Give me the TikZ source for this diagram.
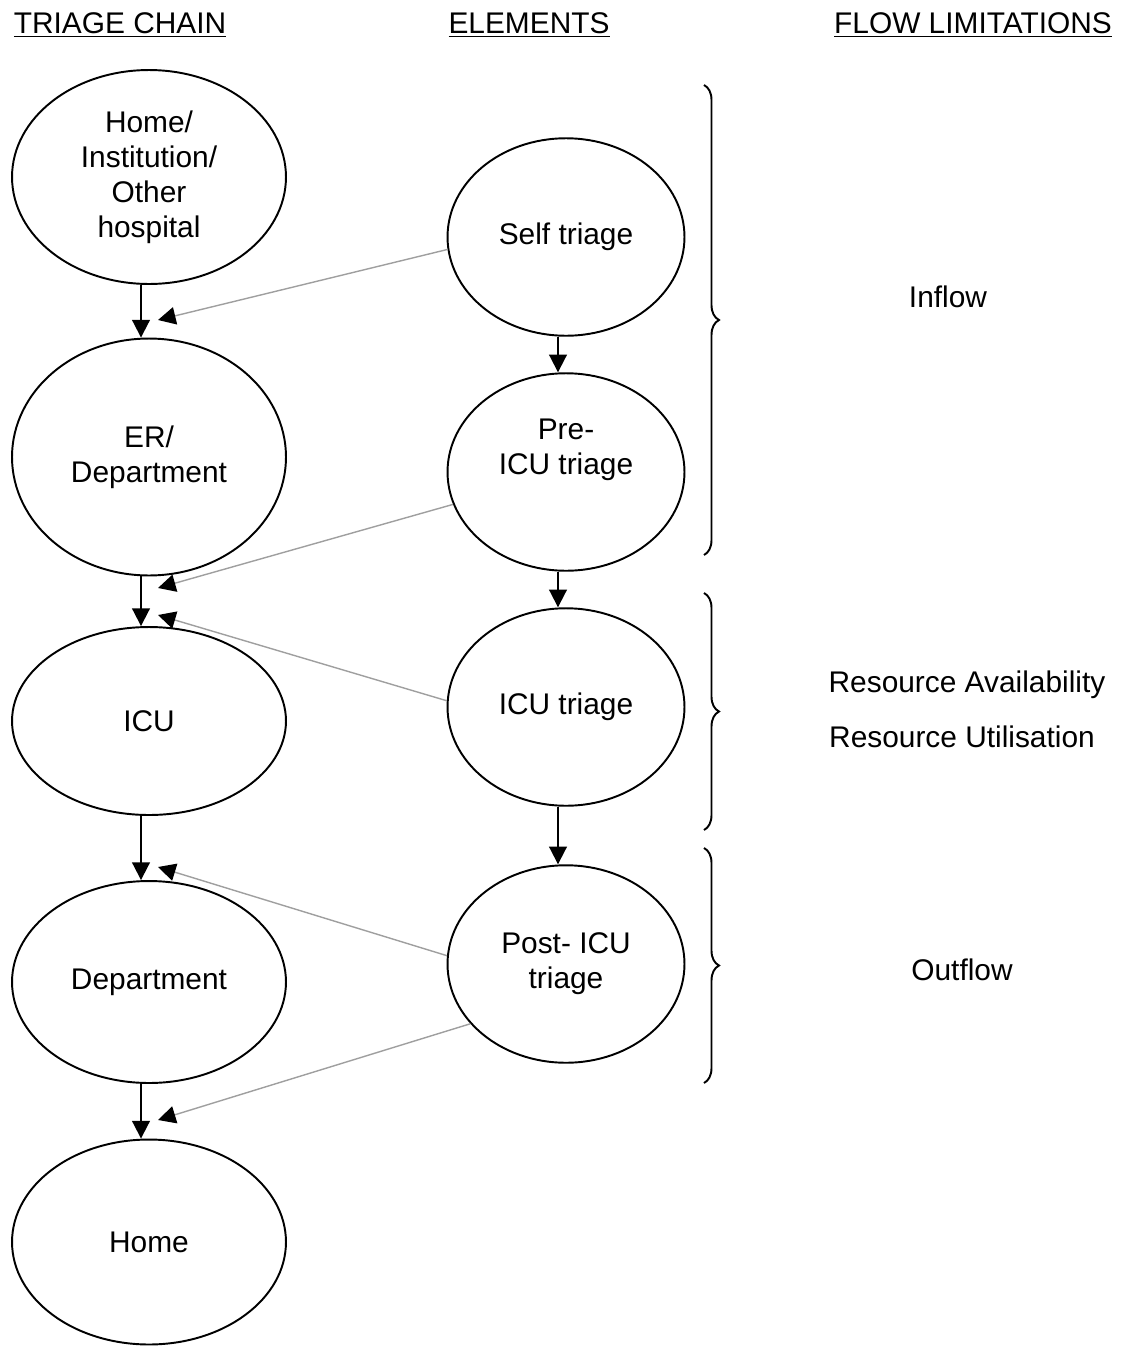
\documentclass[tikz,border=0pt]{standalone}
\usepackage{fontspec}
\setmainfont{Liberation Sans}
\usetikzlibrary{positioning}
\usetikzlibrary{shapes.geometric}
\usetikzlibrary{arrows.meta}
\usetikzlibrary{decorations.pathreplacing}

\begin{document}
\begin{tikzpicture}[
        x=0.02cm,
        y=-0.02cm,
        every node/.style={
            font=\fontsize{17}{20}\selectfont,
        },
        chain/.style={
            draw,
            line width=1.1pt,
            ellipse,
            align=center,
            inner sep=0pt,
            minimum width=5.48cm,
        },
        element/.style={
            draw,
            line width=1.1pt,
            ellipse,
            align=center,
            inner sep=0pt,
            minimum width=4.74cm,
            minimum height=3.95cm,
        },
        flow/.style={
            -{Triangle[length=10pt,width=10pt]},
            line width=1.1pt,
        },
        feed/.style={
            -{Triangle[length=10pt,width=10pt,black]},
            draw=gray!75,
            line width=0.8pt,
        },
        limit/.style={
            decorate,
            decoration={brace,amplitude=0.3cm},
            line width=1.1pt,
        },
    ]
    \useasboundingbox (0,0) rectangle (1131,1349);

    % Headings.
    \node (hchain) at (120,25) {\underline{TRIAGE CHAIN}};
    \node (helem) at (529,25) {\underline{ELEMENTS}};
    \node (hflow) at (973,25) {\underline{FLOW LIMITATIONS}};

    % Triage chain.
    \node[chain, minimum height=4.28cm] (home1) at (149,177) {Home/\\Institution/\\Other\\hospital};
    \node[chain, minimum height=4.74cm] (er) at (149,457) {ER/\\Department};
    \node[chain, minimum height=3.76cm] (icu) at (149,721) {ICU};
    \node[chain, minimum height=4.04cm] (dept) at (149,982) {Department};
    \node[chain, minimum height=4.10cm] (home2) at (149,1242) {Home};

    % Elements.
    \node[element] (self) at (566,237) {Self triage};
    \node[element, text depth=1cm] (pre) at (566,472) {Pre-\\ICU triage};
    \node[element] (icut) at (566,707) {ICU triage};
    \node[element] (post) at (566,964) {Post- ICU\\triage};

    % Flow limitations.
    \node (inflow) at (948,297) {Inflow};
    \node (avail) at (967,685) {Resource Availability};
    \node (util) at (962,737) {Resource Utilisation};
    \node (outflow) at (962,970) {Outflow};

    % Chain arrows.
    \draw[flow] ([xshift=-0.16cm]home1.south) to ([xshift=-0.16cm]er.north);
    \draw[flow] ([xshift=-0.16cm]er.south) to ([xshift=-0.16cm]icu.north);
    \draw[flow] ([xshift=-0.16cm]icu.south) to ([xshift=-0.16cm]dept.north);
    \draw[flow] ([xshift=-0.16cm]dept.south) to ([xshift=-0.16cm]home2.north);

    \draw[flow] ([xshift=-0.16cm]self.south) to ([xshift=-0.16cm]pre.north);
    \draw[flow] ([xshift=-0.16cm]pre.south) to ([xshift=-0.16cm]icut.north);
    \draw[flow] ([xshift=-0.16cm]icut.south) to ([xshift=-0.16cm]post.north);

    % Where the elements act on the chain.
    \coordinate (t1) at (158,320);
    \coordinate (t2) at (158,588);
    \coordinate (t3) at (158,615);
    \coordinate (t4) at (158,867);
    \coordinate (t5) at (158,1120);

    \draw[feed] (self.186) to (t1);
    \draw[feed] (pre.196) to (t2);
    \draw[feed] (icut.177) to (t3);
    \draw[feed] (post.176) to (t4);
    \draw[feed] (post.212) to (t5);

    % Braces.
    \draw[limit] (704,85) to (704,555);
    \draw[limit] (704,593) to (704,830);
    \draw[limit] (704,848) to (704,1083);

\end{tikzpicture}
\end{document}
